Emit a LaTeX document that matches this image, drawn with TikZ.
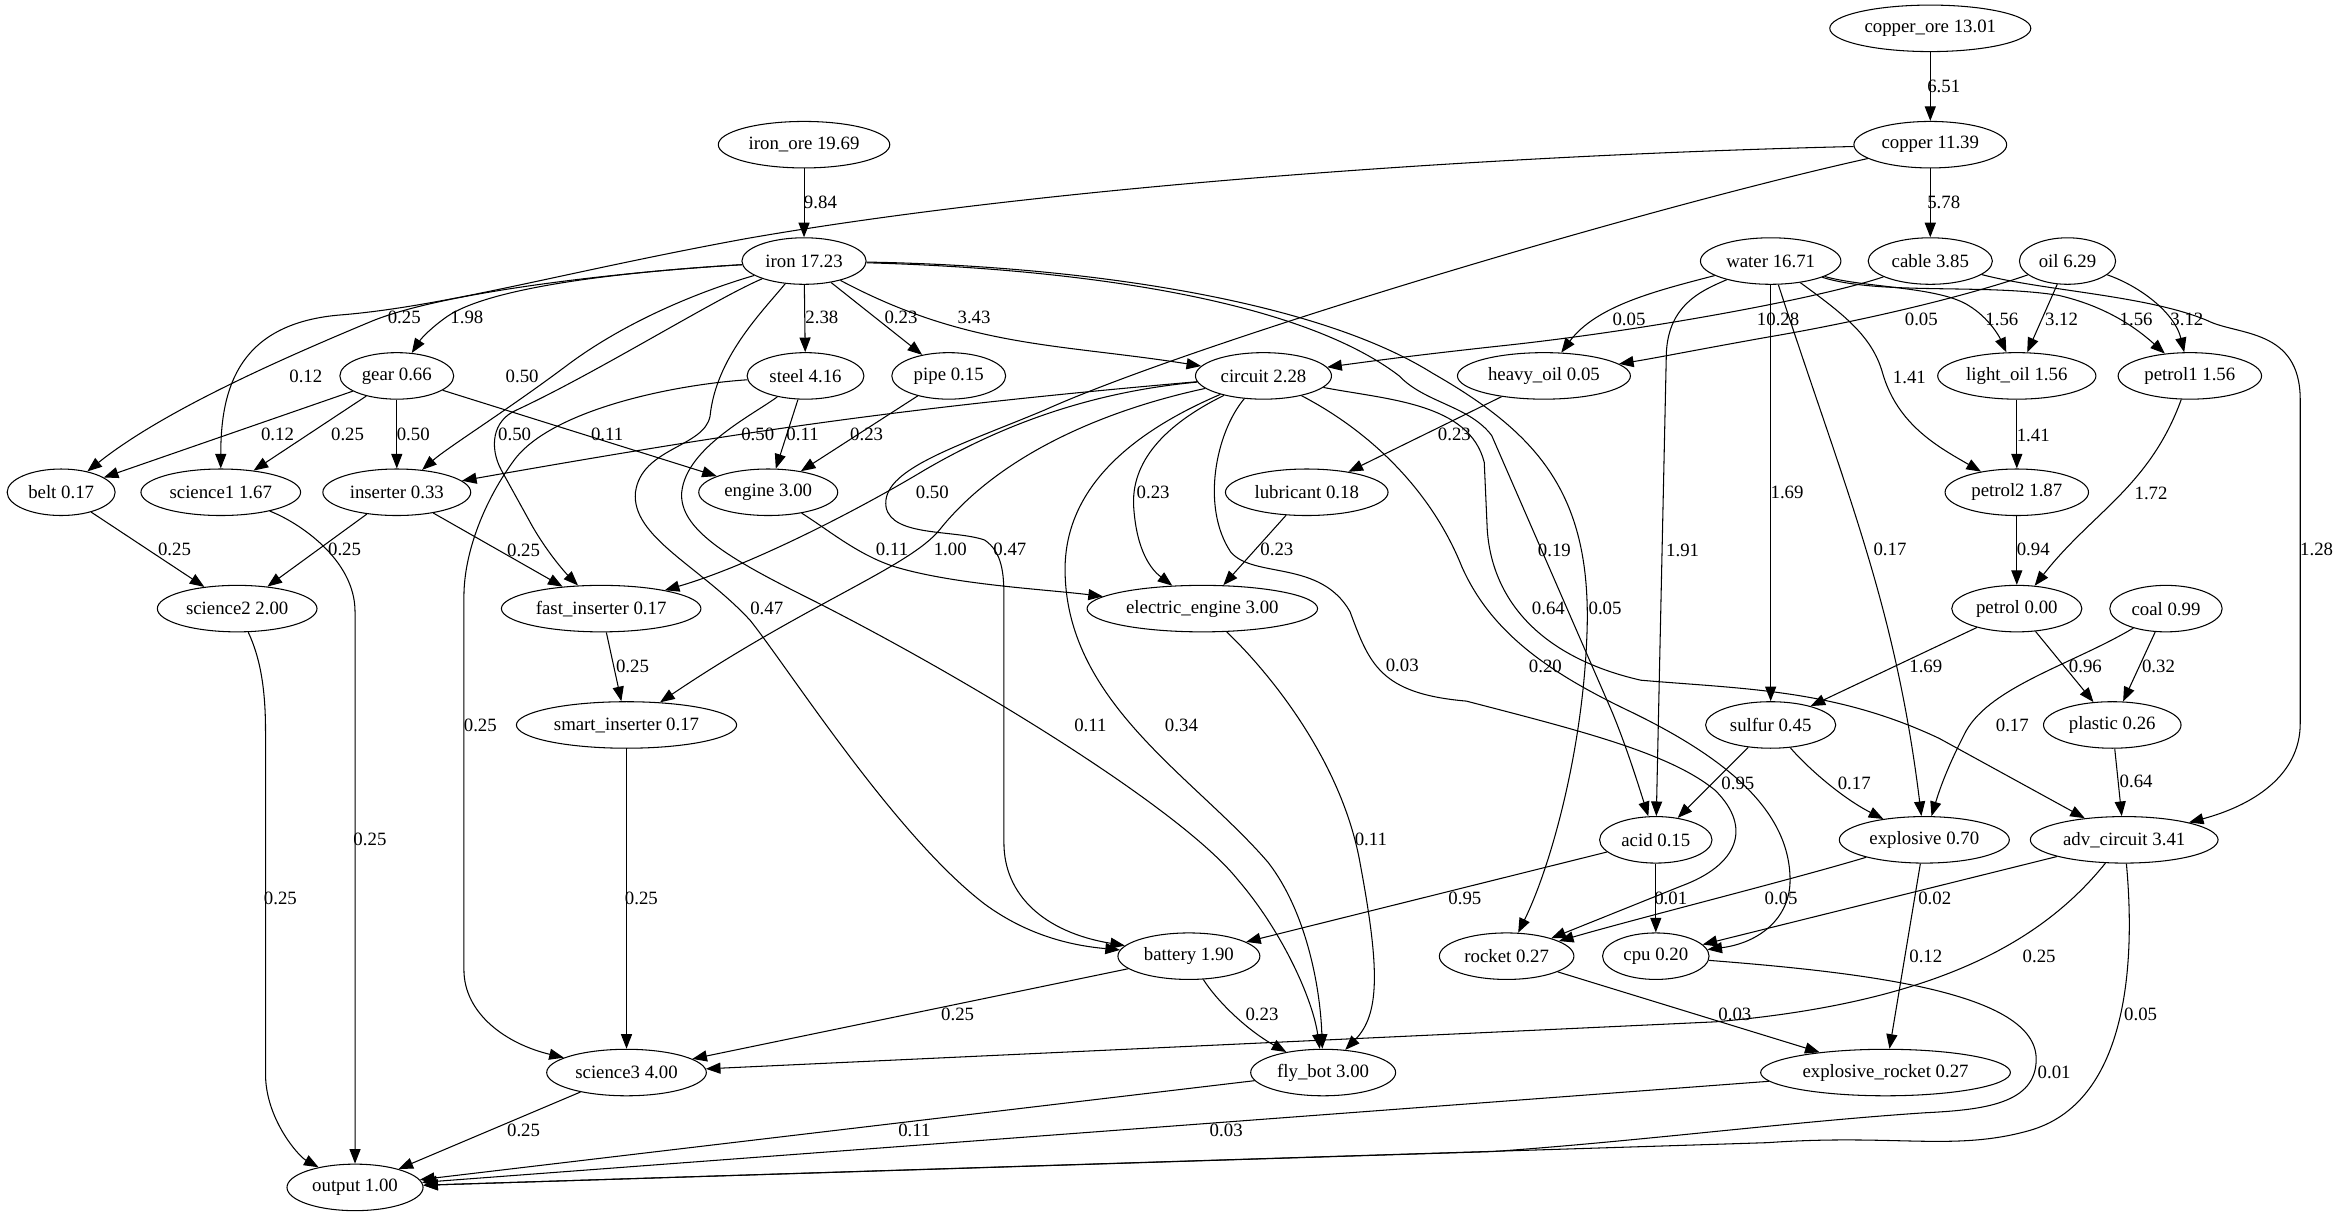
\documentclass[tikz,border=0pt]{standalone}
\usepackage{fontspec}
\setmainfont{Liberation Serif}
\usetikzlibrary{arrows.meta,shapes.geometric}

\begin{document}
\begin{tikzpicture}[x=0.029834cm,y=-0.029834cm,
    font=\fontsize{10.7}{12}\selectfont,
    >={Triangle[length=8.3pt,width=6.3pt]},
    item/.style={ellipse,draw,line width=0.6pt,inner xsep=3pt,inner ysep=1pt,
                 minimum height=0.93cm},
    flow/.style={->,line width=0.6pt},
    lbl/.style={inner sep=0pt}]
  \useasboundingbox (0,0) rectangle (1568,817);

  % items, one row per rank
  \node[item] (cuore) at (1294,19) {copper\_ore 13.01};
  \node[item] (feore) at (539,97) {iron\_ore 19.69};
  \node[item] (cu) at (1294,97) {copper 11.39};
  \node[item] (fe) at (539,175) {iron 17.23};
  \node[item] (water) at (1187,175) {water 16.71};
  \node[item] (cable) at (1294,175) {cable 3.85};
  \node[item] (oil) at (1386,175) {oil 6.29};
  \node[item] (gear) at (266,252) {gear 0.66};
  \node[item] (steel) at (540,252) {steel 4.16};
  \node[item] (pipe) at (636,252) {pipe 0.15};
  \node[item] (circ) at (847,252) {circuit 2.28};
  \node[item] (hoil) at (1035,252) {heavy\_oil 0.05};
  \node[item] (loil) at (1352,252) {light\_oil 1.56};
  \node[item] (petA) at (1468,252) {petrol1 1.56};
  \node[item] (belt) at (41,330) {belt 0.17};
  \node[item] (sciA) at (148,330) {science1 1.67};
  \node[item] (ins) at (266,330) {inserter 0.33};
  \node[item] (eng) at (515,330) {engine 3.00};
  \node[item] (lube) at (876,330) {lubricant 0.18};
  \node[item] (petB) at (1352,330) {petrol2 1.87};
  \node[item] (sciB) at (159,408) {science2 2.00};
  \node[item] (fins) at (403,408) {fast\_inserter 0.17};
  \node[item] (eeng) at (806,408) {electric\_engine 3.00};
  \node[item] (petrol) at (1352,408) {petrol 0.00};
  \node[item] (coal) at (1452,408) {coal 0.99};
  \node[item] (sins) at (420,486) {smart\_inserter 0.17};
  \node[item] (sulfur) at (1187,486) {sulfur 0.45};
  \node[item] (plastic) at (1416,486) {plastic 0.26};
  \node[item] (acid) at (1110,563) {acid 0.15};
  \node[item] (expl) at (1290,563) {explosive 0.70};
  \node[item] (acirc) at (1424,563) {adv\_circuit 3.41};
  \node[item] (batt) at (797,641) {battery 1.90};
  \node[item] (rocket) at (1010,641) {rocket 0.27};
  \node[item] (cpu) at (1110,641) {cpu 0.20};
  \node[item] (sciC) at (420,719) {science3 4.00};
  \node[item] (bot) at (887,719) {fly\_bot 3.00};
  \node[item] (xrock) at (1264,719) {explosive\_rocket 0.27};
  \node[item] (outp) at (238,796) {output 1.00};

  % ores and copper
  \draw[flow] (cuore) -- (cu) node[lbl] at (1303,58) {6.51};
  \draw[flow] (feore) -- (fe) node[lbl] at (550,136) {9.84};
  \draw[flow] (cu) -- (cable) node[lbl] at (1303,136) {5.78};
  \draw[flow] (cu) .. controls (1000,104) and (700,125) .. (500,160)
    .. controls (380,182) and (300,205) .. (230,211)
    .. controls (160,216) and (148,260) .. (sciA) node[lbl] at (271,213) {0.25};
  \draw[flow] (cu) .. controls (1100,140) and (800,230) .. (700,275)
    .. controls (640,300) and (590,315) .. (594,340)
    .. controls (598,360) and (640,355) .. (660,362)
    .. controls (672,370) and (673,385) .. (673,400) -- (673,565)
    .. controls (673,600) and (700,625) .. (batt) node[lbl] at (677,368) {0.47};

  % iron
  \draw[flow] (fe) .. controls (420,182) and (330,192) .. (300,212)
    .. controls (290,219) and (283,226) .. (gear) node[lbl] at (313,213) {1.98};
  \draw[flow] (fe) .. controls (420,182) and (300,195) .. (250,215)
    .. controls (190,240) and (110,275) .. (belt) node[lbl] at (205,252) {0.12};
  \draw[flow] (fe) .. controls (470,195) and (420,215) .. (380,245)
    .. controls (340,275) and (300,300) .. (ins) node[lbl] at (350,252) {0.50};
  \draw[flow] (fe) .. controls (480,200) and (400,250) .. (346,275)
    .. controls (330,282) and (328,300) .. (336,315) -- (357,353)
    .. controls (368,372) and (380,385) .. (fins) node[lbl] at (345,291) {0.50};
  \draw[flow] (fe) -- (steel) node[lbl] at (551,213) {2.38};
  \draw[flow] (fe) -- (pipe) node[lbl] at (604,213) {0.23};
  \draw[flow] (fe) to[out=-28,in=171] (circ) node[lbl] at (653,213) {3.43};
  \draw[flow] (fe) .. controls (510,210) and (480,240) .. (476,279)
    .. controls (472,300) and (430,300) .. (426,330)
    .. controls (423,360) and (470,380) .. (503,416)
    .. controls (530,450) and (600,560) .. (660,606)
    .. controls (690,628) and (720,634) .. (batt) node[lbl] at (514,408) {0.47};
  \draw[flow] (fe) .. controls (720,180) and (870,200) .. (938,252)
    .. controls (955,270) and (985,272) .. (1000,292) -- (1081,478)
    .. controls (1090,500) and (1097,522) .. (acid) node[lbl] at (1042,369) {0.19};
  \draw[flow] (fe) .. controls (720,178) and (880,200) .. (960,250)
    .. controls (1030,290) and (1066,330) .. (1064,420)
    .. controls (1062,500) and (1040,580) .. (rocket) node[lbl] at (1076,408) {0.05};

  % cable, water, oil
  \draw[flow] (cable) .. controls (1220,200) and (1100,222) .. (1005,232)
    .. controls (950,238) and (920,242) .. (circ) node[lbl] at (1192,214) {10.28};
  \draw[flow] (cable) .. controls (1370,195) and (1440,198) .. (1480,215)
    .. controls (1500,225) and (1542,220) .. (1542,268) -- (1542,485)
    .. controls (1542,520) and (1510,540) .. (acirc) node[lbl] at (1553,368) {1.28};
  \draw[flow] (water) .. controls (1110,195) and (1070,205) .. (hoil)
    node[lbl] at (1092,214) {0.05};
  \draw[flow] (water) .. controls (1250,193) and (1300,192) .. (1320,205)
    .. controls (1333,213) and (1340,225) .. (loil) node[lbl] at (1342,214) {1.56};
  \draw[flow] (water) .. controls (1260,198) and (1330,190) .. (1380,198)
    .. controls (1410,205) and (1430,218) .. (petA) node[lbl] at (1432,214) {1.56};
  \draw[flow] (water) .. controls (1235,210) and (1255,225) .. (1262,250)
    .. controls (1272,285) and (1300,300) .. (petB) node[lbl] at (1280,253) {1.41};
  \draw[flow] (water) -- (sulfur) node[lbl] at (1198,330) {1.69};
  \draw[flow] (water) .. controls (1140,195) and (1117,205) .. (1117,240) -- (acid)
    node[lbl] at (1128,369) {1.91};
  \draw[flow] (water) to[out=-72,in=97] (expl) node[lbl] at (1267,368) {0.17};
  \draw[flow] (oil) .. controls (1320,198) and (1250,215) .. (1185,226)
    .. controls (1140,234) and (1110,240) .. (hoil) node[lbl] at (1288,214) {0.05};
  \draw[flow] (oil) -- (loil) node[lbl] at (1382,214) {3.12};
  \draw[flow] (oil) .. controls (1435,192) and (1458,210) .. (petA)
    node[lbl] at (1466,214) {3.12};

  % circuit
  \draw[flow] (circ) to[out=185,in=10] (ins) node[lbl] at (508,291) {0.50};
  \draw[flow] (circ) .. controls (740,262) and (680,280) .. (620,315)
    .. controls (570,345) and (500,380) .. (fins) node[lbl] at (625,330) {0.50};
  \draw[flow] (circ) .. controls (740,275) and (670,305) .. (630,355)
    .. controls (610,380) and (540,405) .. (sins) node[lbl] at (637,368) {1.00};
  \draw[flow] (circ) .. controls (780,285) and (758,310) .. (760,340)
    .. controls (762,370) and (772,382) .. (eeng) node[lbl] at (773,330) {0.23};
  \draw[flow] (circ) .. controls (770,285) and (715,320) .. (714,380)
    .. controls (713,470) and (800,520) .. (850,578)
    .. controls (875,610) and (885,660) .. (bot) node[lbl] at (792,486) {0.34};
  \draw[flow] (circ) .. controls (815,290) and (805,340) .. (825,370)
    .. controls (840,388) and (885,375) .. (905,410)
    .. controls (918,445) and (925,465) .. (983,470)
    .. controls (1060,490) and (1120,505) .. (1150,530)
    .. controls (1175,555) and (1165,580) .. (1127,594) -- (rocket)
    node[lbl] at (940,446) {0.03};
  \draw[flow] (circ) .. controls (920,290) and (960,330) .. (980,380)
    .. controls (1000,425) and (1040,452) .. (1095,478)
    .. controls (1150,505) and (1200,540) .. (1200,590)
    .. controls (1200,615) and (1180,632) .. (cpu) node[lbl] at (1036,447) {0.20};
  \draw[flow] (circ) .. controls (930,268) and (985,270) .. (995,310) -- (997,355)
    .. controls (1000,400) and (1030,440) .. (1100,456)
    .. controls (1170,462) and (1230,462) .. (1300,495) -- (acirc)
    node[lbl] at (1038,408) {0.64};

  % gear, steel, pipe
  \draw[flow] (gear) -- (belt) node[lbl] at (186,291) {0.12};
  \draw[flow] (gear) -- (sciA) node[lbl] at (233,291) {0.25};
  \draw[flow] (gear) -- (ins) node[lbl] at (277,291) {0.50};
  \draw[flow] (gear) -- (eng) node[lbl] at (407,291) {0.11};
  \draw[flow] (steel) -- (eng) node[lbl] at (538,291) {0.11};
  \draw[flow] (steel) .. controls (450,258) and (370,275) .. (345,308)
    .. controls (325,335) and (311,370) .. (311,400) -- (311,650)
    .. controls (311,680) and (340,700) .. (sciC) node[lbl] at (322,486) {0.25};
  \draw[flow] (steel) .. controls (505,278) and (460,300) .. (457,330)
    .. controls (455,355) and (490,375) .. (540,400)
    .. controls (640,450) and (790,540) .. (830,590)
    .. controls (860,625) and (880,670) .. (bot) node[lbl] at (731,486) {0.11};
  \draw[flow] (pipe) -- (eng) node[lbl] at (581,291) {0.23};

  % oil products
  \draw[flow] (hoil) -- (lube) node[lbl] at (975,291) {0.23};
  \draw[flow] (lube) -- (eeng) node[lbl] at (856,368) {0.23};
  \draw[flow] (loil) -- (petB) node[lbl] at (1363,292) {1.41};
  \draw[flow] (petA) to[out=250,in=52] (petrol) node[lbl] at (1442,331) {1.72};
  \draw[flow] (petB) -- (petrol) node[lbl] at (1363,368) {0.94};
  \draw[flow] (petrol) -- (sulfur) node[lbl] at (1291,447) {1.69};
  \draw[flow] (petrol) -- (plastic) node[lbl] at (1398,447) {0.96};
  \draw[flow] (coal) -- (plastic) node[lbl] at (1447,447) {0.32};
  \draw[flow] (coal) .. controls (1390,445) and (1335,460) .. (1318,490)
    .. controls (1305,515) and (1300,530) .. (expl) node[lbl] at (1349,486) {0.17};
  \draw[flow] (sulfur) -- (acid) node[lbl] at (1165,525) {0.95};
  \draw[flow] (sulfur) .. controls (1212,515) and (1235,535) .. (expl)
    node[lbl] at (1243,525) {0.17};
  \draw[flow] (plastic) -- (acirc) node[lbl] at (1432,524) {0.64};

  % science, inserters, engines
  \draw[flow] (belt) -- (sciB) node[lbl] at (117,368) {0.25};
  \draw[flow] (sciA) .. controls (200,350) and (238,375) .. (238,410) -- (outp)
    node[lbl] at (248,563) {0.25};
  \draw[flow] (ins) -- (sciB) node[lbl] at (231,368) {0.25};
  \draw[flow] (ins) -- (fins) node[lbl] at (351,369) {0.25};
  \draw[flow] (sciB) .. controls (174,440) and (178,460) .. (178,490) -- (178,720)
    .. controls (178,750) and (200,775) .. (outp) node[lbl] at (188,602) {0.25};
  \draw[flow] (fins) -- (sins) node[lbl] at (424,447) {0.25};
  \draw[flow] (eng) .. controls (555,355) and (575,372) .. (600,380)
    .. controls (640,392) and (700,395) .. (eeng) node[lbl] at (598,368) {0.11};
  \draw[flow] (sins) -- (sciC) node[lbl] at (430,602) {0.25};
  \draw[flow] (eeng) .. controls (850,450) and (900,510) .. (912,580)
    .. controls (925,650) and (925,680) .. (bot) node[lbl] at (919,563) {0.11};

  % lower part
  \draw[flow] (acid) -- (batt) node[lbl] at (982,602) {0.95};
  \draw[flow] (acid) -- (cpu) node[lbl] at (1120,602) {0.01};
  \draw[flow] (expl) .. controls (1200,590) and (1100,615) .. (rocket)
    node[lbl] at (1194,602) {0.05};
  \draw[flow] (expl) -- (xrock) node[lbl] at (1291,641) {0.12};
  \draw[flow] (acirc) -- (cpu) node[lbl] at (1297,602) {0.02};
  \draw[flow] (acirc) .. controls (1370,630) and (1300,672) .. (1150,685) -- (sciC)
    node[lbl] at (1367,641) {0.25};
  \draw[flow] (acirc) .. controls (1432,650) and (1425,740) .. (1360,758)
    .. controls (1310,772) and (1270,760) .. (1185,766) -- (outp)
    node[lbl] at (1435,680) {0.05};
  \draw[flow] (batt) -- (sciC) node[lbl] at (642,680) {0.25};
  \draw[flow] (batt) .. controls (815,670) and (835,690) .. (bot)
    node[lbl] at (846,680) {0.23};
  \draw[flow] (rocket) -- (xrock) node[lbl] at (1163,680) {0.03};
  \draw[flow] (cpu) .. controls (1250,652) and (1365,665) .. (1365,710)
    .. controls (1365,740) and (1330,744) .. (1290,746)
    .. controls (1200,752) and (1100,765) .. (1000,772) -- (outp)
    node[lbl] at (1377,719) {0.01};
  \draw[flow] (sciC) -- (outp) node[lbl] at (351,758) {0.25};
  \draw[flow] (bot) -- (outp) node[lbl] at (613,758) {0.11};
  \draw[flow] (xrock) -- (outp) node[lbl] at (822,758) {0.03};
\end{tikzpicture}
\end{document}
